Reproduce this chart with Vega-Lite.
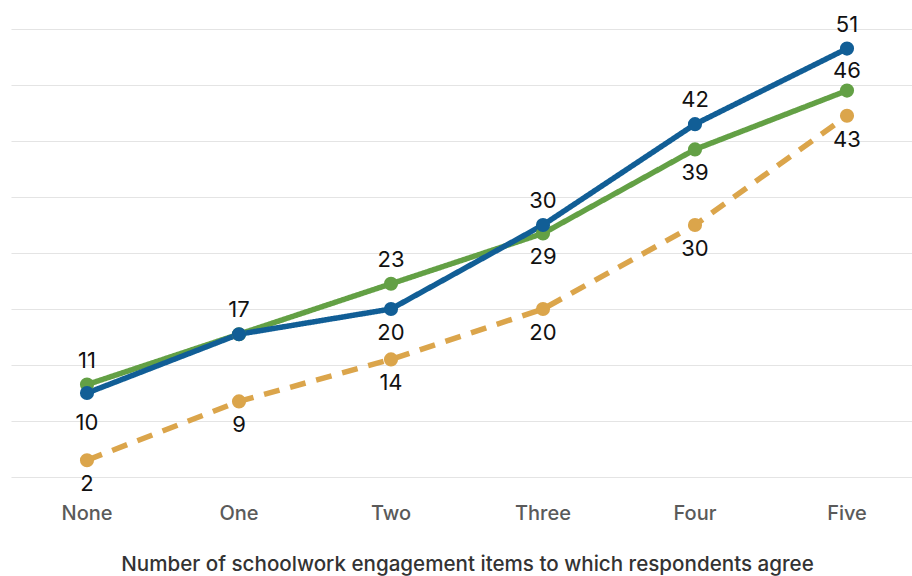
{
  "$schema": "https://vega.github.io/schema/vega-lite/v6.json",
  "width": 912,
  "height": 448,
  "autosize": {"type": "none"},
  "padding": {"left": 11, "top": 29, "right": 0, "bottom": 99},
  "background": "white",
  "config": {
    "view": {"stroke": null},
    "font": "Inter"
  },
  "data": {
    "values": [
      {"cat": "None", "series": "C", "value": 2},
      {"cat": "One", "series": "C", "value": 9},
      {"cat": "Two", "series": "C", "value": 14},
      {"cat": "Three", "series": "C", "value": 20},
      {"cat": "Four", "series": "C", "value": 30},
      {"cat": "Five", "series": "C", "value": 43},
      {"cat": "None", "series": "B", "value": 11},
      {"cat": "One", "series": "B", "value": 17},
      {"cat": "Two", "series": "B", "value": 23},
      {"cat": "Three", "series": "B", "value": 29},
      {"cat": "Four", "series": "B", "value": 39},
      {"cat": "Five", "series": "B", "value": 46},
      {"cat": "None", "series": "A", "value": 10},
      {"cat": "One", "series": "A", "value": 17},
      {"cat": "Two", "series": "A", "value": 20},
      {"cat": "Three", "series": "A", "value": 30},
      {"cat": "Four", "series": "A", "value": 42},
      {"cat": "Five", "series": "A", "value": 51}
    ]
  },
  "encoding": {
    "x": {
      "field": "cat",
      "type": "nominal",
      "sort": ["None", "One", "Two", "Three", "Four", "Five"],
      "scale": {"type": "band", "paddingInner": 0, "paddingOuter": 0},
      "axis": {
        "title": "Number of schoolwork engagement items to which respondents agree",
        "titleFontSize": 20.6,
        "titleFontWeight": 500,
        "titleColor": "#333333",
        "titlePadding": 31,
        "labelAngle": 0,
        "labelFontSize": 20,
        "labelColor": "#5a5a5a",
        "labelFontWeight": 500,
        "labelPadding": 26,
        "ticks": false,
        "domain": false,
        "grid": false
      }
    },
    "y": {
      "field": "value",
      "type": "quantitative",
      "scale": {"domain": [0, 53.333], "nice": false, "zero": true},
      "axis": {
        "title": null,
        "labels": false,
        "ticks": false,
        "domain": false,
        "grid": true,
        "gridColor": "#e4e4e4",
        "gridWidth": 1.2,
        "values": [0, 6.6667, 13.3333, 20, 26.6667, 33.3333, 40, 46.6667, 53.333]
      }
    }
  },
  "layer": [
    {
      "mark": {"type": "line", "strokeWidth": 5.5, "strokeCap": "butt"},
      "encoding": {
        "color": {
          "field": "series",
          "type": "nominal",
          "scale": {"domain": ["A", "B", "C"], "range": ["#115e96", "#63a045", "#dba54b"]},
          "legend": null
        },
        "strokeDash": {
          "field": "series",
          "type": "nominal",
          "scale": {"domain": ["A", "B", "C"], "range": [[1, 0], [1, 0], [16, 11]]},
          "legend": null
        },
        "order": {"value": null}
      }
    },
    {
      "mark": {"type": "point", "filled": true, "opacity": 1, "size": 200},
      "encoding": {
        "color": {
          "field": "series",
          "type": "nominal",
          "scale": {"domain": ["A", "B", "C"], "range": ["#115e96", "#63a045", "#dba54b"]},
          "legend": null
        }
      }
    },
    {
      "transform": [
        {"filter": "(datum.series === 'A' && (datum.cat === 'One' || datum.cat === 'Three' || datum.cat === 'Four' || datum.cat === 'Five')) || (datum.series === 'B' && (datum.cat === 'None' || datum.cat === 'Two'))"}
      ],
      "mark": {"type": "text", "fontSize": 22, "color": "#111111", "baseline": "middle", "dy": -24},
      "encoding": {"text": {"field": "value", "type": "quantitative"}}
    },
    {
      "transform": [
        {"filter": "datum.series === 'B' && datum.cat === 'Five'"}
      ],
      "mark": {"type": "text", "fontSize": 22, "color": "#111111", "baseline": "middle", "dy": -20},
      "encoding": {"text": {"field": "value", "type": "quantitative"}}
    },
    {
      "transform": [
        {"filter": "datum.series === 'C' || (datum.series === 'A' && datum.cat === 'Two') || (datum.series === 'B' && (datum.cat === 'Three' || datum.cat === 'Four'))"}
      ],
      "mark": {"type": "text", "fontSize": 22, "color": "#111111", "baseline": "middle", "dy": 24},
      "encoding": {"text": {"field": "value", "type": "quantitative"}}
    },
    {
      "transform": [
        {"filter": "datum.series === 'A' && datum.cat === 'None'"}
      ],
      "mark": {"type": "text", "fontSize": 22, "color": "#111111", "baseline": "middle", "dy": 30},
      "encoding": {"text": {"field": "value", "type": "quantitative"}}
    }
  ]
}
